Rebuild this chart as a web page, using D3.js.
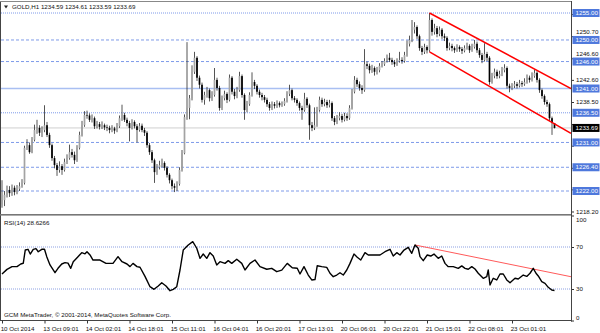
<!DOCTYPE html>
<html>
<head>
<meta charset="utf-8">
<script src="https://d3js.org/d3.v7.min.js"></script>
<style>
  body { margin: 0; background: #fff; }
  svg { display: block; }
  text { font-family: "Liberation Sans", Arial, sans-serif; font-size: 6.2px; fill: #111; }
</style>
</head>
<body>
<svg width="600" height="333"></svg>
<script>
// GOLD H1 candles (bar 0 = 10 Oct 2014)
var opens = [
  1219.5,1220.3,1221.3,1222.2,1221.6,1222.6,1221.8,1222.4,1222.9,1223.5,
  1230.0,1230.5,1229.2,1231.5,1233.3,1233.7,1232.8,1233.3,1234.2,1232.4,
  1230.5,1228.1,1226.8,1225.9,1226.6,1225.9,1227.4,1228.1,1229.2,1228.7,
  1227.7,1230.0,1232.4,1234.2,1236.1,1236.0,1235.2,1235.5,1234.0,1234.4,
  1233.9,1234.2,1233.8,1233.7,1233.3,1233.6,1233.2,1234.0,1235.5,1236.1,
  1235.2,1234.6,1233.7,1234.8,1234.0,1233.3,1234.1,1233.3,1232.8,1230.5,
  1229.2,1227.7,1225.5,1226.4,1226.8,1227.2,1226.3,1225.0,1224.0,1222.9,
  1222.6,1223.3,1225.9,1229.0,1235.7,1237.4,1239.2,1244.1,1246.7,1243.0,
  1241.7,1238.9,1239.8,1240.7,1239.2,1239.8,1242.6,1241.1,1237.4,1239.2,
  1240.0,1238.9,1243.0,1240.4,1239.6,1240.7,1243.3,1239.8,1237.0,1238.1,
  1239.8,1242.2,1241.5,1240.4,1239.8,1239.4,1238.9,1238.1,1237.4,1238.1,
  1237.8,1238.3,1237.9,1238.1,1238.7,1240.0,1240.7,1239.2,1238.9,1238.3,
  1237.4,1237.0,1239.1,1237.9,1234.2,1233.7,1234.2,1237.0,1238.9,1238.1,
  1238.5,1237.9,1238.3,1235.5,1234.8,1235.5,1235.9,1235.2,1235.9,1235.5,
  1237.4,1240.4,1242.6,1241.8,1241.1,1240.7,1245.5,1245.2,1244.4,1244.8,
  1244.1,1244.4,1245.2,1245.5,1246.1,1246.7,1246.3,1245.9,1245.5,1246.1,
  1246.3,1246.1,1247.2,1249.3,1250.0,1251.9,1252.4,1250.7,1248.5,1247.8,
  1248.7,1248.1,1253.7,1251.5,1252.2,1251.1,1251.9,1250.7,1250.4,1248.5,
  1248.9,1248.5,1248.1,1248.7,1248.3,1248.0,1248.5,1248.9,1248.1,1248.7,
  1249.3,1248.1,1247.2,1246.3,1247.4,1246.7,1242.2,1243.3,1244.1,1243.3,
  1243.7,1244.4,1244.8,1241.5,1241.1,1241.5,1241.8,1241.5,1242.0,1241.8,
  1242.2,1243.0,1242.6,1243.3,1243.9,1242.6,1240.7,1239.6,1238.5,1238.1,
  1235.5,1234.59
];
var highs = [
  1224.0,1222.0,1223.0,1222.9,1223.2,1223.0,1223.1,1223.6,1224.2,1230.4,
  1231.6,1231.0,1232.0,1234.3,1235.2,1234.2,1234.0,1237.9,1234.8,1232.8,
  1230.8,1228.5,1227.2,1227.5,1227.0,1228.0,1228.8,1230.6,1229.8,1229.3,
  1230.5,1233.0,1235.0,1236.8,1236.9,1236.4,1236.2,1235.8,1235.0,1234.8,
  1234.9,1234.5,1234.3,1234.1,1234.2,1233.9,1234.6,1236.0,1238.0,1236.5,
  1235.6,1235.0,1235.3,1235.1,1234.4,1234.6,1234.5,1233.7,1233.1,1230.9,
  1229.6,1228.0,1227.0,1227.6,1228.0,1227.5,1226.6,1225.3,1224.3,1223.4,
  1223.8,1226.4,1229.6,1236.2,1249.6,1239.8,1245.3,1247.8,1247.0,1243.4,
  1242.1,1240.4,1241.3,1241.0,1240.5,1244.8,1243.0,1241.5,1239.7,1240.6,
  1240.3,1243.6,1243.3,1240.9,1241.3,1244.1,1243.6,1240.1,1238.7,1240.3,
  1244.0,1242.6,1241.8,1240.8,1240.2,1239.8,1239.3,1238.5,1238.6,1238.5,
  1238.8,1238.6,1238.6,1239.2,1240.5,1241.7,1241.0,1239.6,1239.2,1238.6,
  1237.8,1240.2,1239.4,1238.2,1234.8,1237.5,1237.6,1239.5,1239.3,1239.1,
  1238.9,1238.9,1238.6,1235.9,1236.1,1236.6,1236.3,1236.5,1236.4,1237.9,
  1240.9,1243.3,1243.0,1242.3,1241.6,1248.3,1246.0,1245.6,1245.4,1245.1,
  1245.0,1245.7,1246.1,1246.6,1247.3,1247.6,1246.7,1246.3,1246.6,1247.8,
  1246.8,1247.8,1249.9,1250.8,1253.7,1253.3,1252.7,1251.0,1248.9,1249.3,
  1249.0,1255.0,1254.0,1253.0,1252.6,1252.5,1252.2,1251.2,1250.7,1249.5,
  1249.3,1248.8,1249.2,1249.0,1248.7,1249.0,1249.5,1249.2,1249.3,1250.0,
  1249.7,1248.5,1247.6,1249.4,1247.8,1247.0,1243.9,1244.7,1244.5,1244.3,
  1245.0,1245.5,1245.1,1241.9,1242.0,1242.4,1242.2,1242.6,1242.4,1242.9,
  1243.6,1243.4,1244.0,1244.5,1244.2,1242.9,1241.0,1239.9,1238.9,1238.4,
  1235.8,1234.61
];
var lows = [
  1218.9,1219.2,1220.8,1220.9,1221.1,1221.2,1221.4,1222.0,1222.6,1223.2,
  1229.6,1228.9,1229.0,1231.2,1232.6,1232.2,1232.0,1232.9,1232.0,1230.0,
  1227.6,1226.2,1224.8,1225.4,1225.0,1225.6,1227.0,1227.8,1228.2,1227.0,
  1227.4,1229.7,1232.1,1233.9,1235.4,1234.8,1234.7,1233.5,1233.6,1233.4,
  1233.5,1233.3,1233.1,1232.7,1232.9,1232.6,1232.9,1233.7,1235.0,1234.8,
  1234.0,1231.2,1233.4,1233.6,1231.0,1233.0,1232.9,1232.2,1230.0,1228.7,
  1227.2,1223.5,1225.0,1226.0,1226.4,1225.8,1224.5,1223.4,1222.3,1221.8,
  1222.0,1223.0,1225.6,1228.8,1235.2,1235.3,1238.8,1243.7,1242.4,1241.0,
  1238.4,1238.0,1239.3,1238.6,1238.7,1239.5,1240.6,1236.9,1237.0,1238.8,
  1238.3,1238.6,1239.9,1239.0,1239.2,1240.4,1239.3,1235.2,1236.6,1237.8,
  1239.5,1240.9,1239.9,1239.3,1238.8,1238.4,1237.6,1236.9,1237.0,1237.3,
  1237.4,1237.5,1237.6,1237.8,1238.4,1239.6,1238.8,1238.4,1237.8,1236.9,
  1235.2,1236.7,1237.4,1231.5,1233.1,1233.3,1233.9,1236.7,1237.6,1237.7,
  1237.4,1237.5,1235.0,1234.2,1234.4,1235.1,1234.7,1234.9,1235.0,1235.2,
  1237.1,1240.1,1241.3,1240.6,1240.0,1240.4,1244.6,1243.8,1243.9,1243.4,
  1243.6,1244.0,1244.9,1245.2,1245.8,1245.9,1245.4,1245.0,1245.2,1245.8,
  1245.6,1245.8,1246.9,1248.8,1249.6,1251.2,1250.2,1248.0,1247.2,1247.4,
  1247.5,1247.8,1250.8,1251.0,1250.5,1250.7,1250.2,1249.8,1248.0,1248.1,
  1247.9,1247.6,1247.8,1247.8,1247.4,1247.7,1248.2,1247.6,1247.8,1248.4,
  1247.6,1246.7,1245.7,1246.0,1246.1,1241.7,1241.9,1242.9,1242.8,1242.9,
  1243.3,1244.0,1241.0,1240.3,1240.7,1241.1,1241.0,1241.2,1241.3,1241.5,
  1241.9,1242.1,1242.3,1243.0,1242.1,1240.2,1239.1,1238.0,1237.6,1235.0,
  1232.4,1233.59
];
var closes = [
  1220.3,1221.3,1222.2,1221.6,1222.6,1221.8,1222.4,1222.9,1223.5,1230.0,
  1230.5,1229.2,1231.5,1233.3,1233.7,1232.8,1233.3,1234.2,1232.4,1230.5,
  1228.1,1226.8,1225.9,1226.6,1225.9,1227.4,1228.1,1229.2,1228.7,1227.7,
  1230.0,1232.4,1234.2,1236.1,1236.0,1235.2,1235.5,1234.0,1234.4,1233.9,
  1234.2,1233.8,1233.7,1233.3,1233.6,1233.2,1234.0,1235.5,1236.1,1235.2,
  1234.6,1233.7,1234.8,1234.0,1233.3,1234.1,1233.3,1232.8,1230.5,1229.2,
  1227.7,1225.5,1226.4,1226.8,1227.2,1226.3,1225.0,1224.0,1222.9,1222.6,
  1223.3,1225.9,1229.0,1235.7,1237.4,1239.2,1244.1,1246.7,1243.0,1241.7,
  1238.9,1239.8,1240.7,1239.2,1239.8,1242.6,1241.1,1237.4,1239.2,1240.0,
  1238.9,1243.0,1240.4,1239.6,1240.7,1243.3,1239.8,1237.0,1238.1,1239.8,
  1242.2,1241.5,1240.4,1239.8,1239.4,1238.9,1238.1,1237.4,1238.1,1237.8,
  1238.3,1237.9,1238.1,1238.7,1240.0,1240.7,1239.2,1238.9,1238.3,1237.4,
  1237.0,1239.1,1237.9,1234.2,1233.7,1234.2,1237.0,1238.9,1238.1,1238.5,
  1237.9,1238.3,1235.5,1234.8,1235.5,1235.9,1235.2,1235.9,1235.5,1237.4,
  1240.4,1242.6,1241.8,1241.1,1240.7,1245.5,1245.2,1244.4,1244.8,1244.1,
  1244.4,1245.2,1245.5,1246.1,1246.7,1246.3,1245.9,1245.5,1246.1,1246.3,
  1246.1,1247.2,1249.3,1250.0,1251.9,1252.4,1250.7,1248.5,1247.8,1248.7,
  1248.1,1253.7,1251.5,1252.2,1251.1,1251.9,1250.7,1250.4,1248.5,1248.9,
  1248.5,1248.1,1248.7,1248.3,1248.0,1248.5,1248.9,1248.1,1248.7,1249.3,
  1248.1,1247.2,1246.3,1247.4,1246.7,1242.2,1243.3,1244.1,1243.3,1243.7,
  1244.4,1244.8,1241.5,1241.1,1241.5,1241.8,1241.5,1242.0,1241.8,1242.2,
  1243.0,1242.6,1243.3,1243.9,1242.6,1240.7,1239.6,1238.5,1238.1,1235.5,
  1234.6,1233.69
];

// RSI(14) line, sampled points: bar position and value
var rsiBar = [0,2,4,6,7.5,8.5,9.3,10.4,11.3,12.5,13.6,14.5,15.9,17,17.9,19.2,21.2,22.4,23.9,25.2,
  26.4,27.5,28.5,30.4,31.9,33.2,34,35.2,36.4,39.2,41.6,44.4,46.4,48,50,51.2,52.4,54,55.2,57.2,
  59.2,60.8,62.5,63.9,65.6,67.2,68.5,69.9,71.2,72.5,74.5,76.3,77.9,79.2,80.5,81.9,83.2,84.5,85.9,87.2,
  89.2,90.5,91.9,93.9,95.9,97.2,99.2,101.2,103.2,105.9,107.9,109.9,111.9,114.1,116.1,118.1,119.2,120.8,122.5,123.9,
  125.2,126.1,127.9,129.9,131.2,132.5,133.9,135.2,136.5,137.9,139.2,140.8,142.1,143.5,145.2,146.5,148.5,151.2,153.2,155.2,
  156.5,157.9,159.2,160.8,162.5,163.9,165.2,166.5,167.2,168.5,170.1,171.5,172.8,174.5,175.9,177.2,178.5,180.5,182.5,183.9,
  185.2,186.5,187.9,189.2,190.5,192.5,193.9,194.5,195.2,196.5,197.9,199.2,200.5,201.9,203.2,205.2,206.5,208.5,209.9,211.2,
  212.5,213.6,214.5,215.9,217.2,218.5,219.9,221];
var rsiValue = [44.3,48.7,51.3,51.3,53.8,54.5,67.1,67.8,63.3,67.8,68.4,65.5,67.8,67.8,60.8,52.9,45.5,49.7,53.8,55.1,
  54.6,49.7,56.0,60.8,64.6,63.5,65.5,62.4,57.6,57.6,54.4,54.4,60.8,56.0,53.8,51.3,54.4,51.3,50.7,42.0,
  32.2,29.7,32.9,36.0,32.9,28.4,29.7,32.2,48.1,67.1,71.9,75.1,68.8,59.2,63.3,59.2,64.6,61.4,52.9,56.0,
  54.4,57.0,54.4,58.3,54.4,48.1,54.4,57.6,51.3,48.8,49.7,46.5,48.0,54.4,50.3,49.7,44.3,51.3,43.3,38.6,
  39.0,52.2,51.3,50.6,45.0,41.7,43.3,45.5,43.3,48.1,54.4,63.3,60.2,57.6,64.6,62.4,62.4,62.4,65.5,67.8,
  61.4,64.6,62.4,67.1,69.7,64.0,71.9,68.8,60.8,57.0,62.4,61.4,63.3,59.2,61.4,54.4,51.3,51.3,49.7,52.0,
  49.7,48.8,51.3,49.0,45.0,40.2,41.7,48.1,33.8,40.2,38.6,44.3,44.3,38.6,36.0,40.2,39.5,43.3,42.0,45.0,
  49.7,45.0,42.4,37.0,35.4,31.6,29.0,28.6266];

// scale ticks of the price axis; only some of them show a label (the rest sit under the level boxes)
var priceTicks = [1218.2,1222.3,1226.3,1230.4,1234.4,1238.5,1242.6,1246.6,1250.7,1254.8];
var priceTickLabels = [1218.2,1238.5,1242.6,1246.6,1250.7];
var levelPrices = [1255.0,1250.0,1246.0,1241.0,1236.5,1231.0,1226.4,1222.0];
var rsiLevels = [70,30];
var rsiTicks = [0,30,70,100];
var timeBars = [0,17,34,51,68,85,102,119,136,153,170,187,204];
var timeLabels = ["10 Oct 2014","13 Oct 09:01","14 Oct 02:01","14 Oct 18:01","15 Oct 11:01","16 Oct 04:01",
  "16 Oct 20:01","17 Oct 13:01","20 Oct 06:01","20 Oct 22:01","21 Oct 15:01","22 Oct 08:01","23 Oct 01:01"];
// trend lines: [bar, value] start and end
var channelTop = [[171,1255.0],[227.6,1241.0]];
var channelBottom = [[171,1247.8],[227.6,1232.7]];
var rsiTrend = [[165.2,71.9],[227.6,41.7]];

var svg = d3.select("svg");
var left = 1, right = 571, mainTop = 2, mainBottom = 214, rsiTop = 216, rsiBottom = 320.5;

var x = d3.scaleLinear().domain([0, 221]).range([2, 554.5]);
var y = d3.scaleLinear().domain([1222, 1255]).range([191, 13]);
var yr = d3.scaleLinear().domain([0, 100]).range([320.5, 215.5]);

var defs = svg.append("defs");
defs.append("clipPath").attr("id", "clipMain").append("rect")
  .attr("x", left).attr("y", mainTop).attr("width", right - left).attr("height", mainBottom - mainTop);
defs.append("clipPath").attr("id", "clipRsi").append("rect")
  .attr("x", left).attr("y", rsiTop).attr("width", right - left).attr("height", rsiBottom - rsiTop);

// right price scale ticks (drawn first, level boxes go on top)
var pAxis = svg.append("g")
  .attr("transform", "translate(" + right + ",0)")
  .call(d3.axisRight(y).tickValues(priceTicks).tickSize(3).tickPadding(2)
    .tickFormat(function(d) { return priceTickLabels.indexOf(d) >= 0 ? d3.format(".2f")(d) : ""; }));
pAxis.select(".domain").remove();
pAxis.selectAll("line").attr("stroke", "#333");
pAxis.selectAll("text").attr("fill", "#222").style("font-size", "6.2px");
pAxis.selectAll(".tick").filter(function(d) { return d === 1250.7 || d === 1246.6; })
  .select("text").attr("dy", "-0.45em");

var rAxis = svg.append("g")
  .attr("transform", "translate(" + right + ",0)")
  .call(d3.axisRight(yr).tickValues(rsiTicks).tickFormat(d3.format("d")).tickSize(3).tickPadding(2));
rAxis.select(".domain").remove();
rAxis.selectAll("line").attr("stroke", "#333");
rAxis.selectAll("text").attr("fill", "#222").style("font-size", "6.2px");
rAxis.selectAll(".tick").filter(function(d) { return d === 100; }).select("text").attr("dy", "1.0em");
rAxis.selectAll(".tick").filter(function(d) { return d === 0; }).select("text").attr("dy", "-0.1em");

var main = svg.append("g").attr("clip-path", "url(#clipMain)");

// horizontal levels
main.selectAll(".lvl").data(levelPrices).enter().append("line")
  .attr("x1", left).attr("x2", right)
  .attr("y1", function(d) { return y(d); }).attr("y2", function(d) { return y(d); })
  .attr("stroke", function(d) { return d === 1241.0 ? "#a9bff2" : "#6f8ee6"; })
  .attr("stroke-width", function(d) { return d === 1241.0 ? 1.6 : 0.9; })
  .attr("stroke-dasharray", function(d) {
    if (d === 1241.0) return null;
    return (d === 1255.0 || d === 1236.5) ? "1,1" : "3,2";
  });

// current price line
main.append("line")
  .attr("x1", left).attr("x2", right)
  .attr("y1", y(closes[closes.length - 1])).attr("y2", y(closes[closes.length - 1]))
  .attr("stroke", "#cfcfcf").attr("stroke-width", 1);

// candles
var idx = d3.range(closes.length);
main.selectAll(".wick").data(idx).enter().append("line")
  .attr("x1", function(i) { return x(i); }).attr("x2", function(i) { return x(i); })
  .attr("y1", function(i) { return y(highs[i]); }).attr("y2", function(i) { return y(lows[i]); })
  .attr("stroke", "#2a2a2a").attr("stroke-width", 0.8);

main.selectAll(".body").data(idx).enter().append("rect")
  .attr("x", function(i) { return x(i) - 0.85; })
  .attr("width", 1.7)
  .attr("y", function(i) { return y(Math.max(opens[i], closes[i])); })
  .attr("height", function(i) { return Math.max(0.6, Math.abs(y(opens[i]) - y(closes[i]))); })
  .attr("fill", function(i) { return closes[i] >= opens[i] ? "#a3a3a3" : "#000"; });

// red channel
[channelTop, channelBottom].forEach(function(seg) {
  main.append("line")
    .attr("x1", x(seg[0][0])).attr("y1", y(seg[0][1]))
    .attr("x2", x(seg[1][0])).attr("y2", y(seg[1][1]))
    .attr("stroke", "#ff0000").attr("stroke-width", 1.5);
});

// RSI window
var rsi = svg.append("g").attr("clip-path", "url(#clipRsi)");
rsi.selectAll(".rl").data(rsiLevels).enter().append("line")
  .attr("x1", left).attr("x2", right)
  .attr("y1", function(d) { return yr(d); }).attr("y2", function(d) { return yr(d); })
  .attr("stroke", "#7f95e0").attr("stroke-width", 0.9).attr("stroke-dasharray", "1,1");

rsi.append("line")
  .attr("x1", x(rsiTrend[0][0])).attr("y1", yr(rsiTrend[0][1]))
  .attr("x2", x(rsiTrend[1][0])).attr("y2", yr(rsiTrend[1][1]))
  .attr("stroke", "#ff5a5a").attr("stroke-width", 1);

rsi.append("path")
  .datum(d3.range(rsiBar.length))
  .attr("fill", "none").attr("stroke", "#000").attr("stroke-width", 1.4)
  .attr("stroke-linejoin", "round")
  .attr("d", d3.line().x(function(i) { return x(rsiBar[i]); }).y(function(i) { return yr(rsiValue[i]); }));

// frames
svg.append("line").attr("x1", 0.5).attr("x2", 0.5).attr("y1", 1).attr("y2", rsiBottom).attr("stroke", "#444");
svg.append("line").attr("x1", 0).attr("x2", right).attr("y1", 1.5).attr("y2", 1.5).attr("stroke", "#888");
svg.append("line").attr("x1", right + 0.5).attr("x2", right + 0.5).attr("y1", 1).attr("y2", rsiBottom + 1).attr("stroke", "#444");
svg.append("rect").attr("x", 0).attr("y", mainBottom).attr("width", right).attr("height", 1.6).attr("fill", "#777");
svg.append("line").attr("x1", 0).attr("x2", right).attr("y1", rsiBottom).attr("y2", rsiBottom).attr("stroke", "#444");

// price labels in boxes
var boxes = svg.selectAll(".lbl").data(levelPrices).enter().append("g")
  .attr("transform", function(d) { return "translate(" + (right + 1.5) + "," + y(d) + ")"; });
boxes.append("rect").attr("x", 0).attr("y", -4).attr("width", 27).attr("height", 8).attr("fill", "#4e78dc");
boxes.append("text").attr("x", 3).attr("y", 2.2).style("fill", "#fff").text(function(d) { return d3.format(".2f")(d); });

var cur = svg.append("g").attr("transform", "translate(" + (right + 1.5) + "," + y(closes[closes.length - 1]) + ")");
cur.append("rect").attr("x", 0).attr("y", -4).attr("width", 27).attr("height", 8).attr("fill", "#000");
cur.append("text").attr("x", 3).attr("y", 2.2).style("fill", "#fff").text(d3.format(".2f")(closes[closes.length - 1]));

// time axis
var tAxis = svg.append("g")
  .attr("transform", "translate(0," + rsiBottom + ")")
  .call(d3.axisBottom(x).tickValues(timeBars).tickSize(3).tickPadding(3)
    .tickFormat(function(d, i) { return timeLabels[i]; }));
tAxis.select(".domain").remove();
tAxis.selectAll("line").attr("stroke", "#333");
tAxis.selectAll("text").attr("text-anchor", "start").attr("dx", "-0.3em").attr("fill", "#111").style("font-size", "6.2px");

// titles
svg.append("path").attr("d", "M4,5.5 L8,5.5 L6,8.5 Z").attr("fill", "#222");
svg.append("text").attr("x", 12).attr("y", 9).text("GOLD,H1  1234.59 1234.61 1233.59 1233.69");
svg.append("text").attr("x", 4).attr("y", 224.5).text("RSI(14) 28.6266");
svg.append("text").attr("x", 4).attr("y", 317).text("GCM MetaTrader, \u00a9 2001-2014, MetaQuotes Software Corp.");
</script>
</body>
</html>
